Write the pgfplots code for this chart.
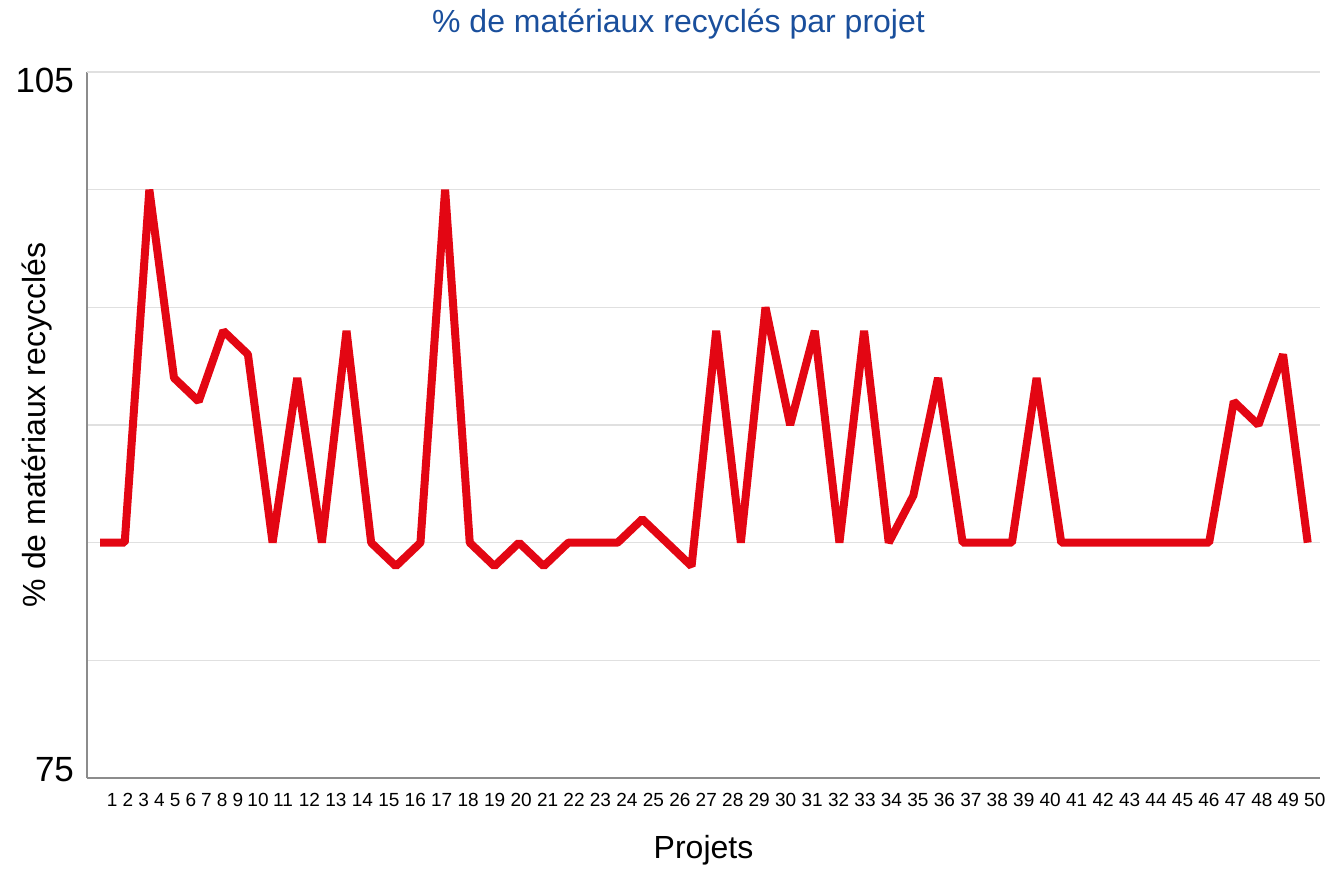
\documentclass[border=0pt]{standalone}
\usepackage{fontspec}
\setmainfont{Liberation Sans}
\setsansfont{Liberation Sans}
\usepackage{pgfplots}
\pgfplotsset{compat=1.18}
\definecolor{lineRed}{HTML}{E30613}
\definecolor{titleBlue}{HTML}{1A4F9C}
\definecolor{gridGray}{HTML}{E0E0E0}
\definecolor{axisGray}{HTML}{8C8C8C}

% 50 projects, share of recycled materials
\pgfplotstableread{
x y
1 85
2 85
3 100
4 92
5 91
6 94
7 93
8 85
9 92
10 85
11 94
12 85
13 84
14 85
15 100
16 85
17 84
18 85
19 84
20 85
21 85
22 85
23 86
24 85
25 84
26 94
27 85
28 95
29 90
30 94
31 85
32 94
33 85
34 87
35 92
36 85
37 85
38 85
39 92
40 85
41 85
42 85
43 85
44 85
45 85
46 85
47 91
48 90
49 93
50 85
}\recycled

\begin{document}
\begin{tikzpicture}
\useasboundingbox (-43.5pt,-46pt) rectangle (622pt,389pt);
\begin{axis}[
  at={(0,0)}, anchor=south west,
  scale only axis,
  width=616.5pt, height=353pt,
  xmin=0.47, xmax=50.5,
  ymin=75, ymax=105,
  axis x line*=bottom,
  axis y line*=left,
  axis line style={draw=axisGray, line width=0.7pt},
  ytick={75},
  yticklabels={75},
  yticklabel style={font=\fontsize{17.5}{20}\selectfont, xshift=-3pt, yshift=4pt},
  extra y ticks={105},
  extra y tick labels={105},
  extra y tick style={grid=major, yticklabel style={yshift=-8pt}},
  minor ytick={80,85,90,95,100},
  yminorgrids,
  minor grid style={draw=gridGray, line width=0.7pt},
  major grid style={draw=gridGray, line width=0.7pt},
  major tick length=0pt, minor tick length=0pt,
  xtick={1.487,2.126,2.765,3.404,4.043,4.682,5.320,5.959,6.598,7.410,
    8.424,9.497,10.571,11.644,12.718,13.791,14.864,15.938,17.011,18.085,
    19.158,20.231,21.305,22.378,23.452,24.525,25.598,26.672,27.745,28.819,
    29.892,30.965,32.039,33.112,34.186,35.259,36.332,37.406,38.479,39.553,
    40.626,41.699,42.773,43.846,44.920,45.993,47.066,48.140,49.213,50.287},
  xticklabels={1,2,3,4,5,6,7,8,9,10,11,12,13,14,15,16,17,18,19,20,
    21,22,23,24,25,26,27,28,29,30,31,32,33,34,35,36,37,38,39,40,
    41,42,43,44,45,46,47,48,49,50},
  xticklabel style={font=\fontsize{9.5}{11}\selectfont, yshift=-4pt},
  xlabel={Projets},
  xlabel style={font=\fontsize{16}{19}\selectfont, at={(rel axis cs:0.5,0)}, anchor=center, yshift=-36pt},
  ylabel={\% de matériaux recycclés},
  ylabel style={font=\fontsize{16}{19}\selectfont, at={(rel axis cs:0,0.5)}, anchor=center, yshift=25pt},
  title={\% de matériaux recyclés par projet},
  title style={font=\fontsize{16}{19}\selectfont, color=titleBlue, at={(rel axis cs:0.5,1)}, anchor=center, yshift=18pt, xshift=-12.5pt},
  clip=false,
]
\addplot[lineRed, line width=4pt, line join=bevel] table[x=x,y=y] {\recycled};
\end{axis}
\end{tikzpicture}
\end{document}
